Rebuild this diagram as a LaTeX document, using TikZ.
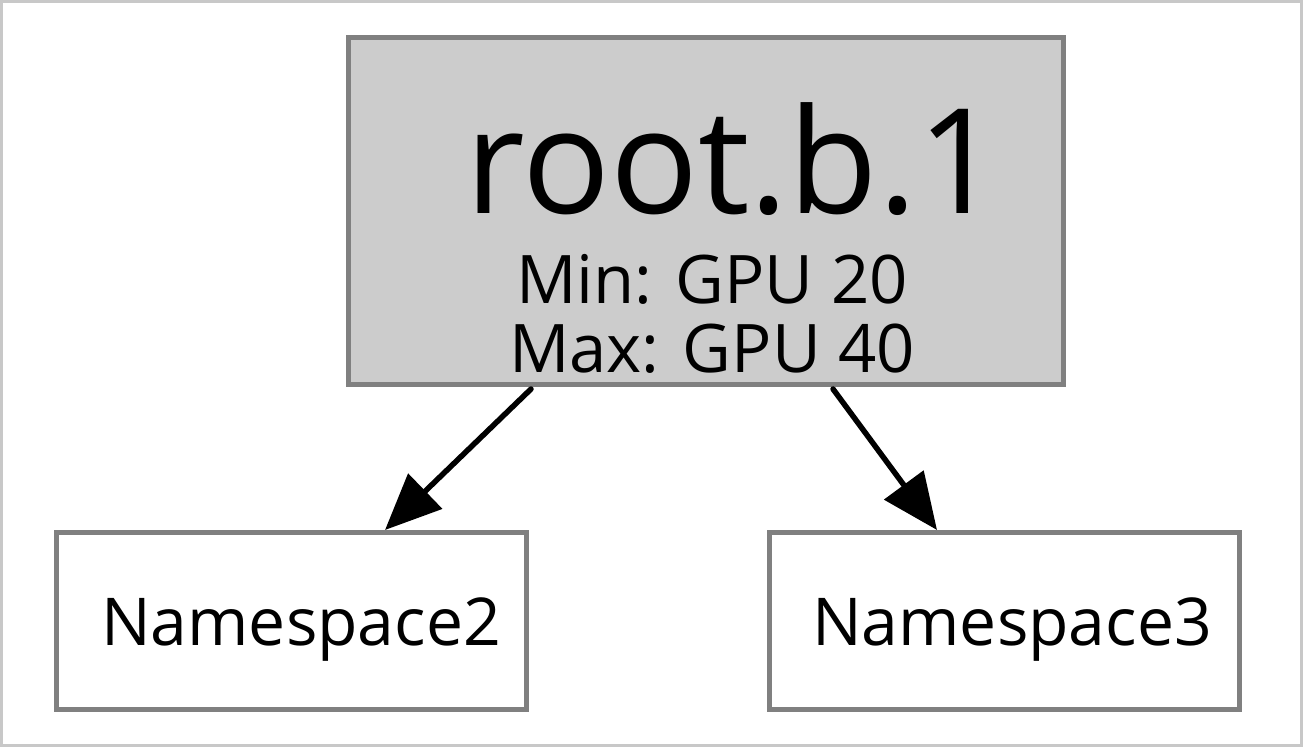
\documentclass[tikz,border=0pt]{standalone}
\usepackage{fontspec}
\setmainfont{Open Sans}
\usetikzlibrary{arrows.meta,positioning}
\definecolor{edgegray}{HTML}{808080}
\definecolor{fillgray}{HTML}{CCCCCC}
\definecolor{framegray}{HTML}{C8C8C8}

\begin{document}
\begin{tikzpicture}[x=1pt, y=-1pt,
  queue/.style={draw=edgegray, line width=5pt, inner sep=0pt},
  big/.style={font=\fontsize{146}{146}\selectfont},
  txt/.style={font=\fontsize{67}{69}\selectfont, align=center, inner sep=0pt},
  link/.style={-{Triangle[length=56pt, width=48pt]}, line width=5.5pt, line cap=round}]
% frame
\draw[framegray, line width=3pt] (1.5,1.5) rectangle (1301.5,745.5);
\useasboundingbox (0,0) rectangle (1303,747);
% root queue
\node[queue, fill=fillgray, minimum width=715pt, minimum height=347pt] (root) at (706,211) {};
\node[big, inner sep=0pt, anchor=base] (rootname) at (733,213) {root.b.1};
\node[txt, anchor=base] (minval) at (712,303) {Min: GPU 20};
\node[txt, anchor=base] (maxval) at (712,372) {Max: GPU 40};
% children
\node[queue, minimum width=470pt, minimum height=177pt] (ns2) at (291,621) {};
\node[txt, anchor=base, font=\fontsize{66}{69}\selectfont] (ns2name) at (301,645) {Namespace2};
\node[queue, minimum width=470pt, minimum height=177pt] (ns3) at (1004,621) {};
\node[txt, anchor=base, font=\fontsize{66}{69}\selectfont] (ns3name) at (1012,645) {Namespace3};
% edges
\draw[link] ([xshift=-175pt, yshift=-2pt]root.south) -- ([xshift=94pt]ns2.north);
\draw[link] ([xshift=127pt, yshift=-2pt]root.south) -- ([xshift=-67pt]ns3.north);
\end{tikzpicture}
\end{document}
